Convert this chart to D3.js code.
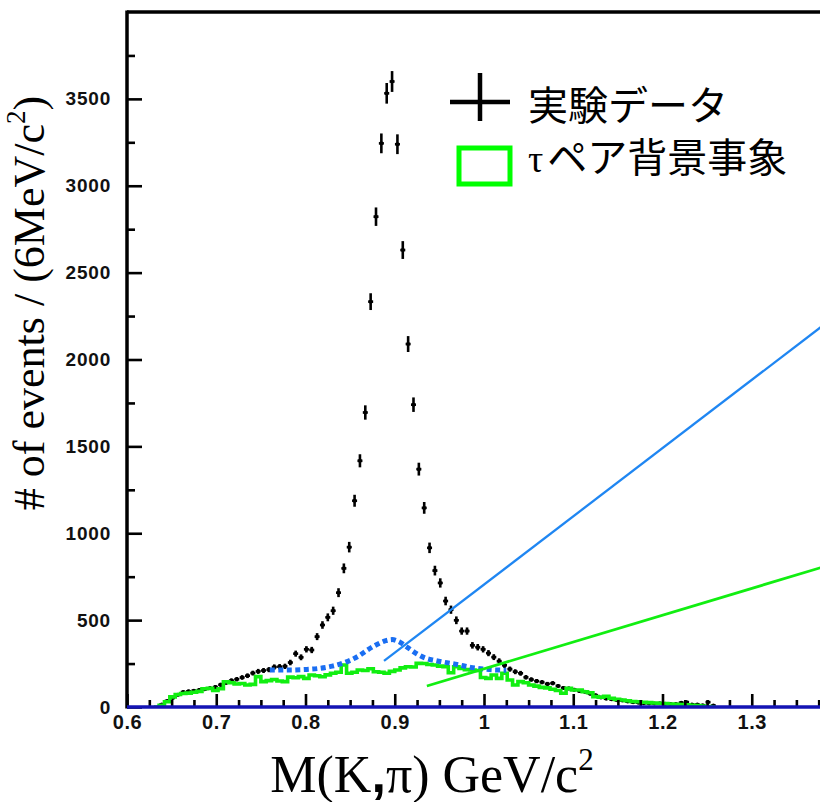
<!DOCTYPE html>
<html><head><meta charset="utf-8">
<script src="https://cdn.jsdelivr.net/npm/d3@7"></script>
<style>body{margin:0;background:#fff}svg{display:block}</style>
</head><body><svg id="c" width="820" height="802"></svg>
<script>
// ---------- data ----------
const xTickValues = [0.6,0.7,0.8,0.9,1.0,1.1,1.2,1.3];
const xTickLabels = ["0.6","0.7","0.8","0.9","1","1.1","1.2","1.3"];
const xMinorTicks = [0.625,0.65,0.675,0.725,0.75,0.775,0.825,0.85,0.875,0.925,0.95,0.975,1.025,1.05,1.075,1.125,1.15,1.175,1.225,1.25,1.275,1.325,1.35,1.375];
const yTickValues = [0,500,1000,1500,2000,2500,3000,3500];
const yTickLabels = ["0","500","1000","1500","2000","2500","3000","3500"];
const yMinorTicks = [250,750,1250,1750,2250,2750,3250,3750];

// experimental data: bin centres (GeV/c^2) and counts per 6 MeV
const dataMass = [0.639,0.645,0.651,0.657,0.663,0.669,0.675,0.681,0.687,0.693,0.699,0.705,0.711,0.717,0.723,0.729,0.735,0.741,0.747,0.753,0.759,0.765,0.771,0.777,0.783,0.789,0.795,0.801,0.807,0.813,0.819,0.825,0.831,0.837,0.843,0.849,0.855,0.861,0.867,0.873,0.879,0.885,0.891,0.897,0.903,0.909,0.915,0.921,0.927,0.933,0.939,0.945,0.951,0.957,0.963,0.969,0.975,0.981,0.987,0.993,0.999,1.005,1.011,1.017,1.023,1.029,1.035,1.041,1.047,1.053,1.059,1.065,1.071,1.077,1.083,1.089,1.095,1.101,1.107,1.113,1.119,1.125,1.131,1.137,1.143,1.149,1.155,1.161,1.167,1.173,1.179,1.185,1.191,1.197,1.203,1.209,1.215,1.221,1.227,1.233,1.239,1.245,1.251,1.257];
const dataCounts = [15,35,52,70,86,90,94,98,102,108,115,128,140,152,160,170,180,195,205,210,215,230,232,234,256,307,286,332,328,405,472,516,554,658,798,920,1187,1417,1695,2333,2822,3244,3532,3600,3239,2630,2089,1740,1369,1146,916,785,714,610,560,499,437,437,355,344,332,310,287,264,240,218,203,194,171,158,149,143,133,137,121,110,107,100,92,88,76,68,54,48,44,39,38,31,27,25,22,20,20,21,18,17,17,25,28,15,14,10,28,8];

// tau-pair background histogram: lower bin edges and counts
const bkgEdges = [0.630,0.636,0.642,0.648,0.654,0.660,0.666,0.672,0.678,0.684,0.690,0.696,0.702,0.708,0.714,0.720,0.726,0.732,0.738,0.744,0.750,0.756,0.762,0.768,0.774,0.780,0.786,0.792,0.798,0.804,0.810,0.816,0.822,0.828,0.834,0.840,0.846,0.852,0.858,0.864,0.870,0.876,0.882,0.888,0.894,0.900,0.906,0.912,0.918,0.924,0.930,0.936,0.942,0.948,0.954,0.960,0.966,0.972,0.978,0.984,0.990,0.996,1.002,1.008,1.014,1.020,1.026,1.032,1.038,1.044,1.050,1.056,1.062,1.068,1.074,1.080,1.086,1.092,1.098,1.104,1.110,1.116,1.122,1.128,1.134,1.140,1.146,1.152,1.158,1.164,1.170,1.176,1.182,1.188,1.194,1.200,1.206,1.212,1.218,1.224,1.230,1.236,1.242,1.248,1.254,1.260];
const bkgCounts = [0,10,30,58,72,78,80,85,90,105,108,95,105,145,140,132,135,127,130,175,146,152,158,150,146,172,168,175,165,184,180,174,185,194,200,242,194,200,213,210,220,203,200,194,205,213,225,232,230,251,250,245,242,235,232,197,232,222,215,213,210,170,165,184,165,194,155,127,146,140,127,120,113,110,102,95,79,107,98,98,88,82,60,56,62,50,44,40,36,32,30,27,25,23,21,20,17,15,14,12,10,8,6,3,0,0];

// blue dotted curve
const curveMass = [0.760,0.780,0.800,0.815,0.830,0.845,0.860,0.870,0.880,0.890,0.897,0.905,0.915,0.925,0.935,0.945,0.955,0.970,0.985,1.000,1.015,1.025];
const curveVals = [213,213,216,222,235,258,295,330,360,382,388,375,340,305,280,268,258,245,228,218,213,212];

// annotation lines (mass, count)
const blueLineMass = [0.888,1.400];
const blueLineVals = [265,2275];
const greenLineMass = [0.936,1.400];
const greenLineVals = [121,837];

const legendLabels = ["実験データ","τペア背景事象"];

// ---------- drawing ----------
const svg = d3.select("#c");
const x = d3.scaleLinear().domain([0.6,1.4]).range([127,841]);
const y = d3.scaleLinear().domain([0,4000]).range([707,12]);

const GREEN = "#11ee11", BLUE = "#1f86f2", DOTBLUE = "#1a6ef2", NAVY = "#1414b4";

const defs = svg.append("defs");
defs.append("clipPath").attr("id","plotclip").append("rect")
  .attr("x",x(0.6)).attr("y",y(4000)).attr("width",x(1.4)-x(0.6)).attr("height",y(0)-y(4000));

const plot = svg.append("g").attr("clip-path","url(#plotclip)");

// data points with error bars
const n = Math.min(dataMass.length,dataCounts.length);
const pts = d3.range(n).map(i=>({m:dataMass[i], v:dataCounts[i]}));
const pg = plot.append("g").attr("stroke","#000");
pg.selectAll("line.v").data(pts).join("line").attr("class","v")
  .attr("x1",d=>x(d.m)).attr("x2",d=>x(d.m))
  .attr("y1",d=>y(d.v-Math.sqrt(d.v))).attr("y2",d=>y(d.v+Math.sqrt(d.v)))
  .attr("stroke-width",2.6);
pg.selectAll("line.h").data(pts).join("line").attr("class","h")
  .attr("x1",d=>x(d.m-0.0028)).attr("x2",d=>x(d.m+0.0028))
  .attr("y1",d=>y(d.v)).attr("y2",d=>y(d.v))
  .attr("stroke-width",2.6);
pg.selectAll("circle").data(pts).join("circle")
  .attr("cx",d=>x(d.m)).attr("cy",d=>y(d.v)).attr("r",2).attr("fill","#000").attr("stroke","none");

// background histogram
const stepData = bkgEdges.map((e,i)=>[e,bkgCounts[i]]);
plot.append("path").datum(stepData)
  .attr("fill","none").attr("stroke",GREEN).attr("stroke-width",3.6)
  .attr("d", d3.line().x(d=>x(d[0])).y(d=>y(d[1])).curve(d3.curveStepAfter));

// blue dotted curve
plot.append("path").datum(curveMass.map((m,i)=>[m,curveVals[i]]))
  .attr("fill","none").attr("stroke",DOTBLUE).attr("stroke-width",5)
  .attr("stroke-dasharray","5,3.5")
  .attr("d", d3.line().x(d=>x(d[0])).y(d=>y(d[1])).curve(d3.curveMonotoneX));

// annotation lines
plot.append("line")
  .attr("x1",x(blueLineMass[0])).attr("y1",y(blueLineVals[0]))
  .attr("x2",x(blueLineMass[1])).attr("y2",y(blueLineVals[1]))
  .attr("stroke",BLUE).attr("stroke-width",2.3);
plot.append("line")
  .attr("x1",x(greenLineMass[0])).attr("y1",y(greenLineVals[0]))
  .attr("x2",x(greenLineMass[1])).attr("y2",y(greenLineVals[1]))
  .attr("stroke",GREEN).attr("stroke-width",2.8);

// axes
const tickFont = "'Liberation Sans', Arial, Helvetica, sans-serif";
const xAxis = svg.append("g").attr("transform",`translate(0,${y(0)})`)
  .call(d3.axisBottom(x).tickValues(xTickValues).tickFormat((d,i)=>xTickLabels[i]).tickSize(-13).tickPadding(8));
const xMinor = svg.append("g").attr("transform",`translate(0,${y(0)})`)
  .call(d3.axisBottom(x).tickValues(xMinorTicks).tickFormat("").tickSize(-7));
const yAxis = svg.append("g").attr("transform",`translate(${x(0.6)},0)`)
  .call(d3.axisLeft(y).tickValues(yTickValues).tickFormat((d,i)=>yTickLabels[i]).tickSize(-15).tickPadding(16));
const yMinor = svg.append("g").attr("transform",`translate(${x(0.6)},0)`)
  .call(d3.axisLeft(y).tickValues(yMinorTicks).tickFormat("").tickSize(-8));
[xAxis,xMinor,yAxis,yMinor].forEach(g=>{
  g.select(".domain").remove();
  g.selectAll(".tick line").attr("stroke","#000").attr("stroke-width",2.6);
});
xAxis.selectAll(".tick text").attr("font-family",tickFont).attr("font-weight","bold")
  .attr("font-size",20).attr("fill","#111").attr("letter-spacing","0.5px");
yAxis.selectAll(".tick text").attr("font-family",tickFont).attr("font-weight","bold")
  .attr("font-size",19).attr("fill","#111").attr("letter-spacing","0.8px");

// frame
svg.append("line").attr("x1",x(0.6)).attr("x2",x(0.6)).attr("y1",y(4000)-1.5).attr("y2",y(0)+1.5)
  .attr("stroke","#000").attr("stroke-width",3.5);
svg.append("line").attr("x1",x(0.6)).attr("x2",x(1.4)).attr("y1",y(4000)).attr("y2",y(4000))
  .attr("stroke","#000").attr("stroke-width",3.5);
svg.append("line").attr("x1",x(0.6)).attr("x2",x(1.4)).attr("y1",y(0)).attr("y2",y(0))
  .attr("stroke",NAVY).attr("stroke-width",3.5);

// axis titles
const serif = "'Liberation Serif', 'Times New Roman', Times, serif";
const xt = svg.append("text").attr("x",432).attr("y",792).attr("text-anchor","middle")
  .attr("font-family",serif).attr("font-size",52).attr("fill","#000");
xt.append("tspan").text("M(K");
xt.append("tspan").attr("font-family",tickFont).attr("font-weight","bold").text(",");
xt.append("tspan").text("π) GeV/c");
xt.append("tspan").attr("font-size",31).attr("dy",-22).text("2");

const yt = svg.append("text").attr("transform","translate(44,303) rotate(-90)")
  .attr("text-anchor","middle").attr("font-family",serif).attr("font-size",44).attr("fill","#000");
yt.append("tspan").text("# of events / (6MeV/c");
yt.append("tspan").attr("font-size",27).attr("dy",-19).text("2");
yt.append("tspan").attr("dy",19).text(")");

// legend
const lg = svg.append("g");
lg.append("line").attr("x1",450).attr("x2",510).attr("y1",102).attr("y2",102).attr("stroke","#000").attr("stroke-width",4.5);
lg.append("line").attr("x1",480).attr("x2",480).attr("y1",73).attr("y2",121).attr("stroke","#000").attr("stroke-width",4.5);
lg.append("rect").attr("x",459).attr("y",148).attr("width",51).attr("height",36)
  .attr("fill","none").attr("stroke","#00ff00").attr("stroke-width",5);
const cjk = "'Noto Sans CJK JP', 'Noto Sans', sans-serif";
lg.append("text").attr("x",528).attr("y",120).attr("font-family",cjk).attr("font-size",40).attr("fill","#000").text(legendLabels[0]);
const t2 = lg.append("text").attr("x",528).attr("y",172).attr("font-family",cjk).attr("font-size",40).attr("fill","#000");
t2.append("tspan").attr("font-family",serif).attr("font-size",38).text(legendLabels[1].slice(0,1));
t2.append("tspan").attr("dx",4).text(legendLabels[1].slice(1));
</script></body></html>
